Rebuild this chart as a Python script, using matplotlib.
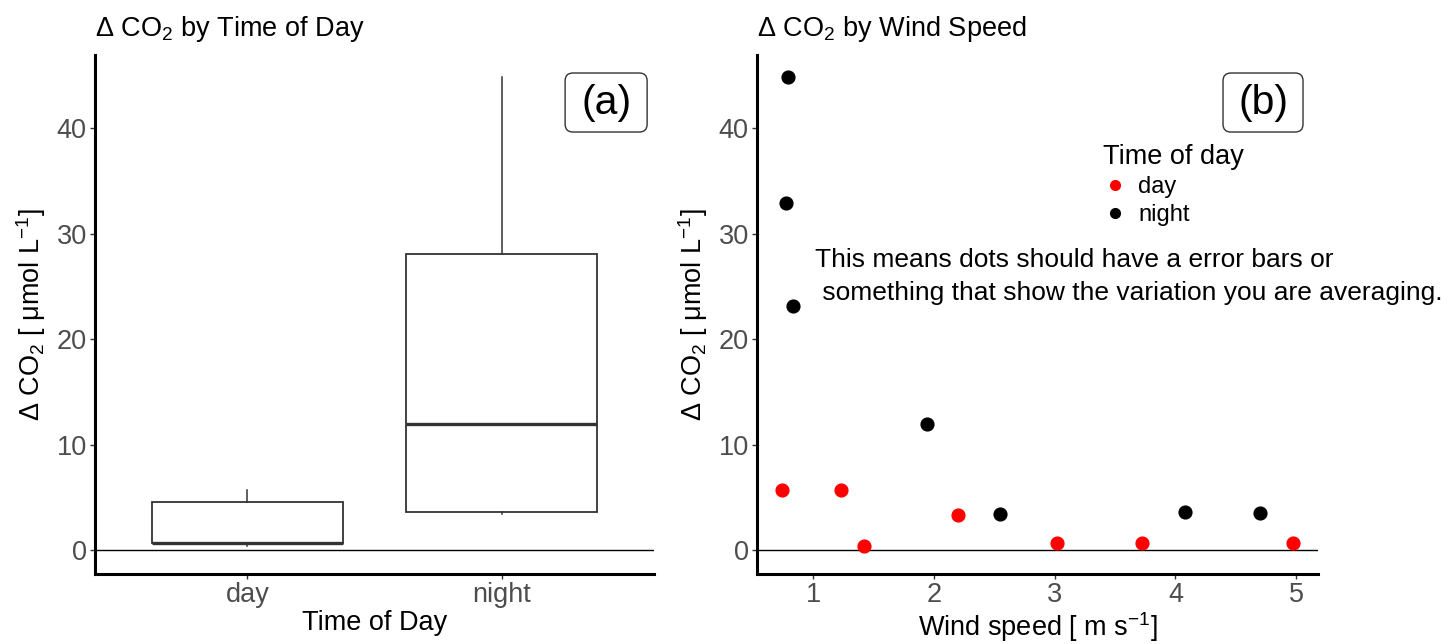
import matplotlib
matplotlib.use('Agg')
import matplotlib.pyplot as plt
from matplotlib.lines import Line2D
from matplotlib.patches import FancyBboxPatch

plt.rcParams['font.family'] = ['Liberation Sans', 'DejaVu Sans']
plt.rcParams['mathtext.fontset'] = 'custom'
plt.rcParams['mathtext.rm'] = 'Liberation Sans'
plt.rcParams['mathtext.it'] = 'Liberation Sans:italic'

# wind speed [m/s] and delta CO2 [umol/L]
day_wind = [0.746, 1.229, 1.42, 2.20, 3.02, 3.72, 4.97]
day_co2 = [5.71, 5.71, 0.41, 3.40, 0.67, 0.70, 0.70]
night_wind = [0.795, 0.779, 0.837, 1.94, 2.55, 4.08, 4.70]
night_co2 = [44.83, 32.95, 23.17, 11.97, 3.46, 3.68, 3.52]

groups = ['day', 'night']
y_ticks = [0, 10, 20, 30, 40]
wind_ticks = [1, 2, 3, 4, 5]

ylab = r'Δ CO$_2$ [ μmol L$^{-1}$]'
tick_col = '#4D4D4D'
fs = 19.5

fig = plt.figure(figsize=(14.48, 6.44), dpi=100)
ax1 = fig.add_axes([95/1448, 70/644, 559/1448, 519/644])
ax2 = fig.add_axes([757/1448, 70/644, 561/1448, 519/644])


def style(ax):
    for s in ['top', 'right']:
        ax.spines[s].set_visible(False)
    for s in ['left', 'bottom']:
        ax.spines[s].set_linewidth(2.2)
        ax.spines[s].set_color('black')
    ax.tick_params(labelsize=fs, labelcolor=tick_col, color='#333333',
                   length=3.5, width=1, pad=2.5)
    ax.set_yticks(y_ticks)
    ax.set_ylim(-2.24, 46.96)
    ax.set_ylabel(ylab, fontsize=fs, labelpad=6)
    ax.axhline(0, color='black', lw=1.0, zorder=0)


def tag(ax, x0, w, label):
    # rounded label box, in axes fraction
    asp = ax.bbox.width / ax.bbox.height
    ax.add_patch(FancyBboxPatch((x0, 0.8516), w, 0.1137, transform=ax.transAxes,
                                boxstyle='round,pad=0,rounding_size=0.014',
                                mutation_aspect=asp, fc='white', ec='#333333',
                                lw=1, clip_on=False, zorder=3))
    ax.text(x0 + w / 2, 0.8516 + 0.1137 / 2, label, transform=ax.transAxes,
            fontsize=29.5, ha='center', va='center', zorder=4)


# (a) boxplot
style(ax1)
ax1.boxplot([day_co2, night_co2], positions=[1, 2], widths=0.75,
            whis=1.5, showcaps=False, showfliers=False, patch_artist=True,
            boxprops=dict(facecolor='white', edgecolor='#333333', lw=1.3),
            whiskerprops=dict(color='#333333', lw=1.1),
            medianprops=dict(color='#333333', lw=2.4))
ax1.set_xlim(0.4, 2.6)
ax1.set_xticks([1, 2])
ax1.set_xticklabels(groups)
ax1.set_xlabel('Time of Day', fontsize=fs, labelpad=1)
ax1.set_title(r'Δ CO$_2$ by Time of Day', loc='left', fontsize=fs, pad=14)
tag(ax1, 0.841, 0.1467, '(a)')

# (b) scatter
style(ax2)
ax2.plot(day_wind, day_co2, 'o', color='red', ms=9.2, ls='none')
ax2.plot(night_wind, night_co2, 'o', color='black', ms=9.2, ls='none')
ax2.set_xlim(0.535, 5.18)
ax2.set_xticks(wind_ticks)
ax2.set_xlabel(r'Wind speed [ m s$^{-1}$]', fontsize=fs, labelpad=1)
ax2.set_title(r'Δ CO$_2$ by Wind Speed', loc='left', fontsize=fs, pad=14)
tag(ax2, 0.8307, 0.1426, '(b)')

handles = [Line2D([], [], marker='o', color='red', ls='none', ms=7),
           Line2D([], [], marker='o', color='black', ls='none', ms=7)]
ax2.legend(handles, groups, title='Time of day', loc='upper left',
           bbox_to_anchor=((1103 - 757) / 561, (574 - 144) / 519),
           frameon=False, alignment='left', fontsize=17, title_fontsize=fs,
           handlelength=1.0, handletextpad=0.5, labelspacing=0.25,
           borderpad=0.0, borderaxespad=0.0)

ax2.text(0.103, 0.628,
         'This means dots should have a error bars or\n'
         ' something that show the variation you are averaging.',
         transform=ax2.transAxes, fontsize=19, ha='left', va='top',
         linespacing=1.45)

fig.savefig('out.png', dpi=100)
